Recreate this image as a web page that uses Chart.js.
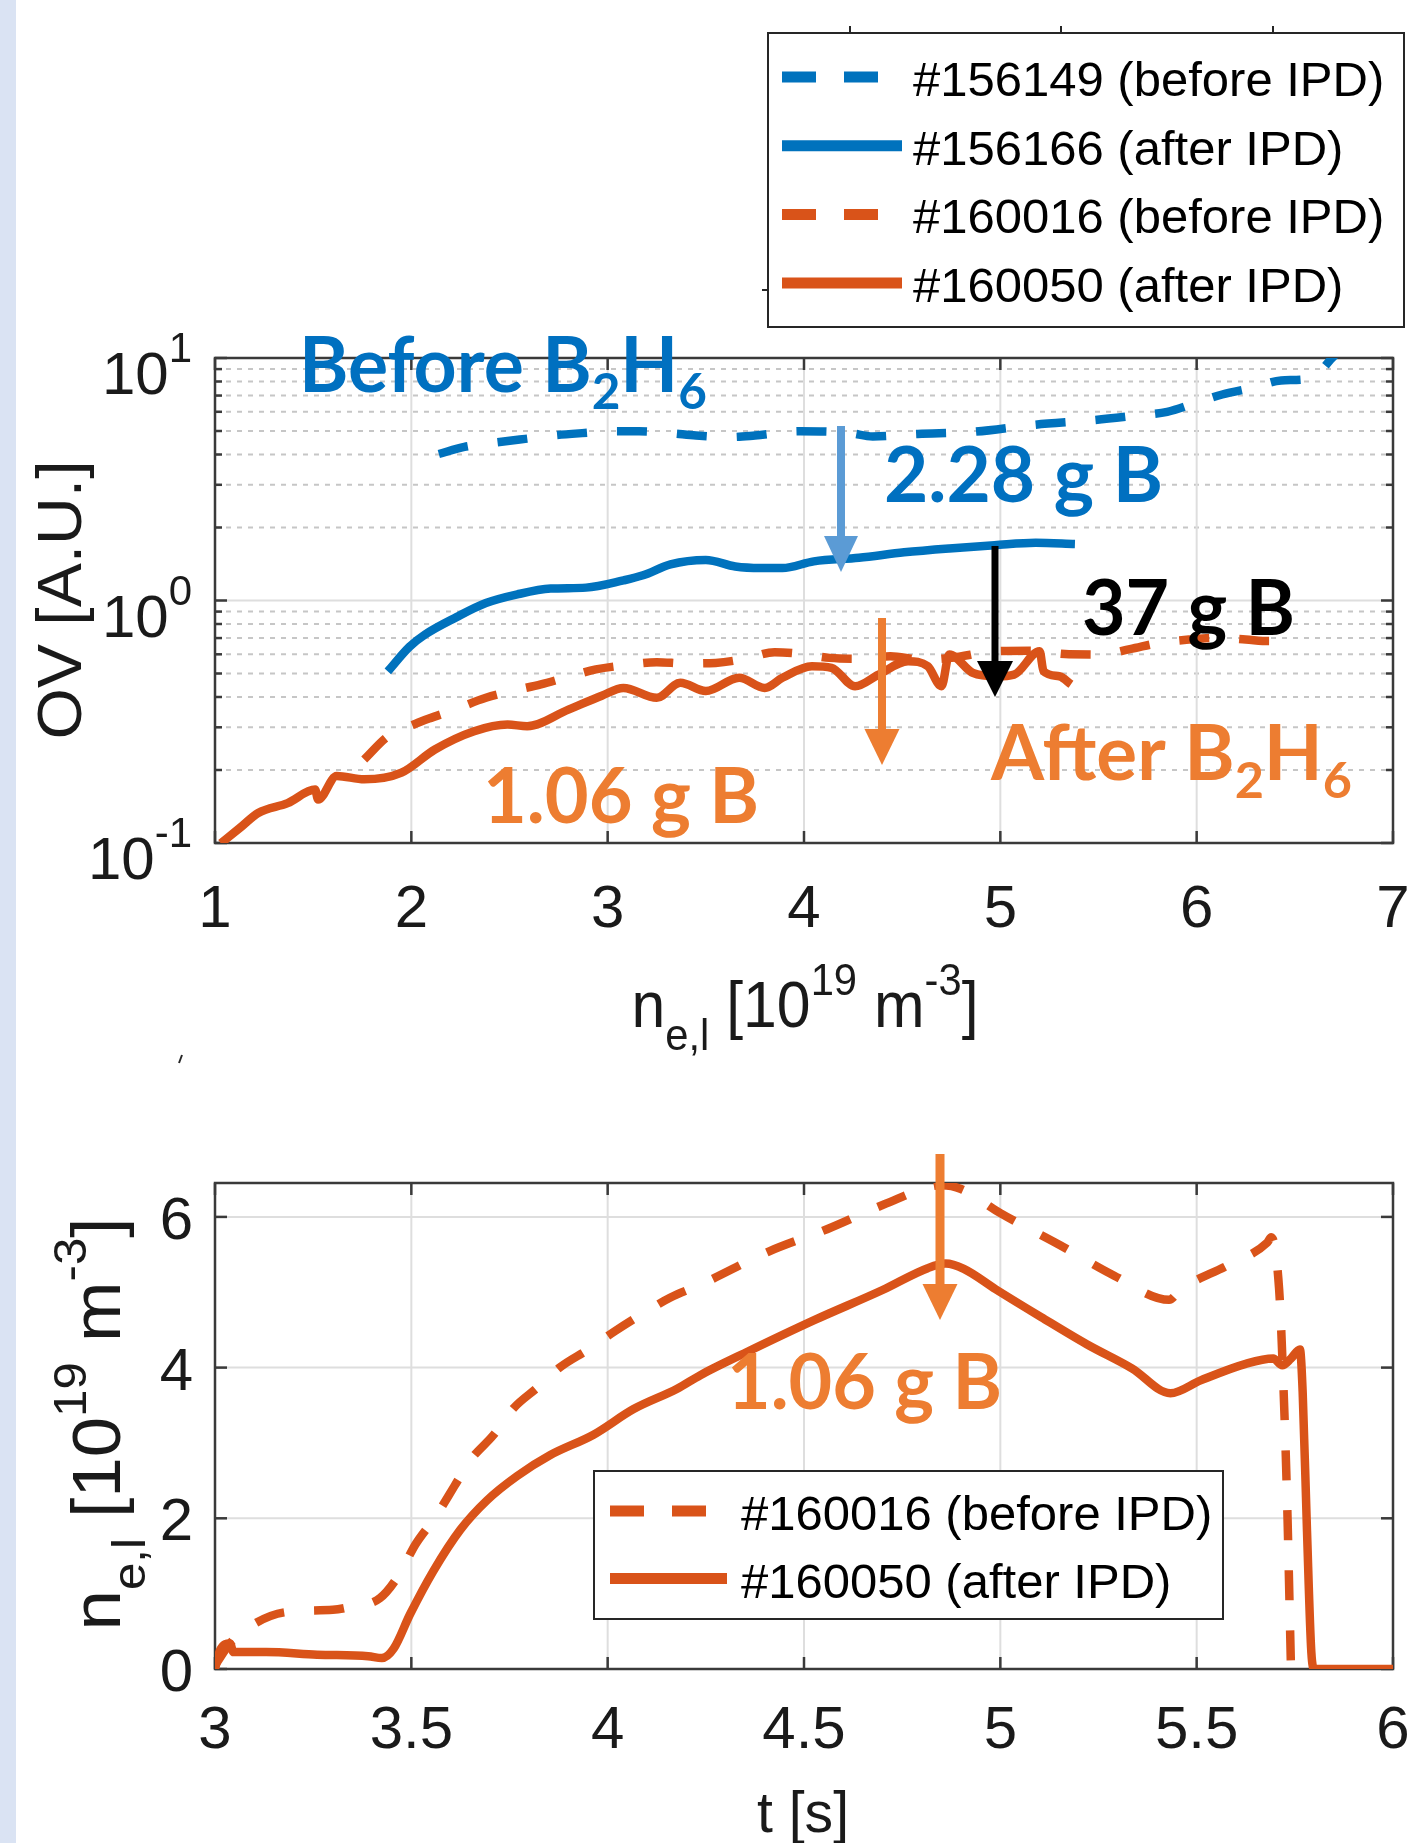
<!DOCTYPE html>
<html>
<head>
<meta charset="utf-8">
<script src="https://cdn.jsdelivr.net/npm/chart.js@4.4.1/dist/chart.umd.min.js"></script>
<style>
html, body { margin: 0; padding: 0; background: #fff; }
body { width: 1408px; height: 1843px; position: relative; overflow: hidden; }
#strip { position: absolute; left: 0; top: 0; width: 16px; height: 1843px; background: #dae3f3; }
canvas { position: absolute; left: 0; }
#ovChart { top: 0; }
#neChart { top: 1080px; }
</style>
</head>
<body>
<div id="strip"></div>
<canvas id="ovChart" width="1408" height="1080"></canvas>
<canvas id="neChart" width="1408" height="763"></canvas>
<script>

// top panel: OV signal vs line averaged density
const ne156149 = [2.14, 2.27, 2.43, 2.58, 2.72, 2.87, 3.02, 3.16, 3.32, 3.45, 3.62, 3.75, 3.98, 4.23, 4.35, 4.58, 4.86, 5.17, 5.48, 5.69, 5.85, 5.99, 6.13, 6.29, 6.43, 6.58, 6.70, 6.76];
const ov156149 = [4.02, 4.30, 4.48, 4.64, 4.79, 4.90, 4.99, 4.99, 4.90, 4.79, 4.72, 4.79, 4.99, 4.91, 4.75, 4.86, 4.96, 5.30, 5.55, 5.79, 6.00, 6.51, 7.07, 7.56, 8.08, 8.23, 10.2, 11.3];

const ne156166 = [1.88, 1.99, 2.07, 2.23, 2.38, 2.54, 2.71, 2.89, 3.08, 3.18, 3.32, 3.50, 3.65, 3.78, 3.89, 4.05, 4.28, 4.51, 4.74, 4.97, 5.18, 5.38];
const ov156166 = [0.51, 0.644, 0.724, 0.854, 0.976, 1.06, 1.12, 1.13, 1.21, 1.27, 1.41, 1.47, 1.38, 1.36, 1.36, 1.45, 1.50, 1.58, 1.64, 1.69, 1.73, 1.71];

const ne160016 = [1.76, 1.88, 2.02, 2.09, 2.20, 2.38, 2.52, 2.66, 2.80, 2.94, 3.08, 3.25, 3.40, 3.55, 3.70, 3.85, 4.00, 4.13, 4.27, 4.44, 4.60, 4.75, 4.98, 5.15, 5.35, 5.51, 5.66, 5.81, 5.96, 6.10, 6.25, 6.37, 6.43];
const ov160016 = [0.221, 0.275, 0.310, 0.326, 0.350, 0.397, 0.425, 0.451, 0.485, 0.520, 0.540, 0.557, 0.550, 0.553, 0.575, 0.612, 0.600, 0.580, 0.575, 0.589, 0.570, 0.580, 0.618, 0.620, 0.600, 0.599, 0.630, 0.669, 0.690, 0.702, 0.690, 0.680, 0.713];

const ne160050 = [1.03, 1.13, 1.22, 1.37, 1.51, 1.525, 1.62, 1.76, 1.95, 2.12, 2.32, 2.49, 2.59, 2.80, 2.97, 3.08, 3.25, 3.37, 3.50, 3.67, 3.80, 3.89, 4.04, 4.14, 4.26, 4.38, 4.53, 4.63, 4.70, 4.74, 4.86, 4.98, 5.07, 5.20, 5.22, 5.30, 5.36];
const ov160050 = [0.0997, 0.116, 0.133, 0.146, 0.166, 0.151, 0.189, 0.183, 0.195, 0.243, 0.289, 0.308, 0.303, 0.355, 0.405, 0.436, 0.397, 0.458, 0.423, 0.480, 0.436, 0.480, 0.536, 0.528, 0.443, 0.495, 0.562, 0.536, 0.443, 0.599, 0.503, 0.487, 0.495, 0.618, 0.511, 0.487, 0.451];

// bottom panel: density time traces
const t160016 = [3.0, 3.04, 3.10, 3.18, 3.30, 3.34, 3.42, 3.47, 3.51, 3.56, 3.61, 3.65, 3.71, 3.76, 3.82, 3.88, 3.95, 4.02, 4.09, 4.16, 4.24, 4.41, 4.56, 4.71, 4.82, 4.85, 4.90, 5.00, 5.15, 5.29, 5.43, 5.46, 5.58, 5.68, 5.69, 5.71, 5.72, 5.73, 5.74];
const neT160016 = [0.05, 0.35, 0.60, 0.755, 0.785, 0.82, 0.94, 1.26, 1.65, 2.01, 2.43, 2.77, 3.11, 3.46, 3.73, 4.01, 4.24, 4.49, 4.72, 4.93, 5.11, 5.54, 5.84, 6.18, 6.40, 6.42, 6.37, 6.05, 5.63, 5.22, 4.90, 5.04, 5.36, 5.66, 5.73, 5.04, 3.89, 2.29, 0.05];

const t160050 = [3.0, 3.013, 3.038, 3.047, 3.13, 3.26, 3.39, 3.425, 3.455, 3.497, 3.556, 3.625, 3.693, 3.769, 3.854, 3.964, 4.066, 4.177, 4.236, 4.352, 4.526, 4.70, 4.815, 4.861, 4.907, 4.988, 5.104, 5.22, 5.335, 5.433, 5.51, 5.625, 5.695, 5.718, 5.74, 5.763, 5.77, 5.781, 5.792, 5.80, 5.856, 6.0];
const neT160050 = [0.0, 0.25, 0.34, 0.225, 0.225, 0.19, 0.17, 0.145, 0.27, 0.73, 1.30, 1.85, 2.24, 2.56, 2.84, 3.11, 3.45, 3.72, 3.90, 4.20, 4.63, 5.03, 5.32, 5.38, 5.31, 5.04, 4.67, 4.31, 3.99, 3.66, 3.83, 4.05, 4.12, 4.03, 4.12, 4.24, 3.67, 1.83, 0.225, 0.0, 0.0, 0.0];

// ticks and labels
const topXTicks = [1, 2, 3, 4, 5, 6, 7];
const topYTicks = [0.1, 1, 10];
const topYTickExp = ['-1', '0', '1'];
const bottomXTicks = [3, 3.5, 4, 4.5, 5, 5.5, 6];
const bottomXTickLabels = ['3', '3.5', '4', '4.5', '5', '5.5', '6'];
const bottomYTicks = [0, 2, 4, 6];

const topLegendLabels = ['#156149 (before IPD)', '#156166 (after IPD)', '#160016 (before IPD)', '#160050 (after IPD)'];
const bottomLegendLabels = ['#160016 (before IPD)', '#160050 (after IPD)'];

const BLUE = '#0072BD';
const ORANGE = '#D95319';
const TXT_BLUE = '#0070C0';
const TXT_ORANGE = '#ED7D31';
const ARROW_BLUE = '#5B9BD5';
const FONT = '"Liberation Sans", Arial, Helvetica, sans-serif';
const CALLOUT = 'Lato, "Open Sans", sans-serif';
const DASH = [30, 30];

const toPoints = (xs, ys) => xs.map((x, i) => ({ x: x, y: ys[i] }));

const lineSet = (label, xs, ys, color, dashed) => ({
    label: label,
    data: toPoints(xs, ys),
    borderColor: color,
    borderWidth: 8.5,
    borderDash: dashed ? DASH : [],
    pointRadius: 0,
    fill: false,
    cubicInterpolationMode: 'monotone'
});

const fontOf = (p) => `${p.weight || 'normal'} ${p.size}px ${p.family || FONT}`;

// draws text runs side by side, sub/superscripts via dy
const drawRich = (ctx, parts, x, y, align) => {
    ctx.textAlign = 'left';
    ctx.textBaseline = 'alphabetic';
    const widths = parts.map(p => { ctx.font = fontOf(p); return ctx.measureText(p.text).width; });
    const total = widths.reduce((a, b) => a + b, 0);
    let cx = align === 'center' ? x - total / 2 : (align === 'right' ? x - total : x);
    parts.forEach((p, i) => {
        ctx.font = fontOf(p);
        ctx.fillStyle = p.color || '#1a1a1a';
        ctx.fillText(p.text, cx, y + (p.dy || 0));
        cx += widths[i];
    });
    return total;
};

const richWidth = (ctx, parts) => parts.reduce((s, p) => { ctx.font = fontOf(p); return s + ctx.measureText(p.text).width; }, 0);

// text squeezed/stretched to a given width, optionally rotated
const drawFit = (ctx, parts, x, y, width, align, rotate) => {
    const w = richWidth(ctx, parts);
    ctx.save();
    ctx.translate(x, y);
    if (rotate) ctx.rotate(-Math.PI / 2);
    ctx.scale(width / w, 1);
    drawRich(ctx, parts, 0, 0, align);
    ctx.restore();
};

const drawArrow = (ctx, x, yTop, yTip, color, shaft, headW, headL) => {
    ctx.fillStyle = color;
    ctx.fillRect(x - shaft / 2, yTop, shaft, yTip - headL - yTop + 1);
    ctx.beginPath();
    ctx.moveTo(x - headW / 2, yTip - headL);
    ctx.lineTo(x + headW / 2, yTip - headL);
    ctx.lineTo(x, yTip);
    ctx.closePath();
    ctx.fill();
};

const seg = (ctx, x0, y0, x1, y1) => {
    ctx.beginPath();
    ctx.moveTo(x0, y0);
    ctx.lineTo(x1, y1);
    ctx.stroke();
};

const drawLegend = (ctx, box, chart, rows) => {
    ctx.save();
    ctx.fillStyle = '#fff';
    ctx.fillRect(box.x, box.y, box.w, box.h);
    ctx.strokeStyle = '#262626';
    ctx.lineWidth = 2;
    ctx.strokeRect(box.x, box.y, box.w, box.h);
    chart.data.datasets.forEach((ds, i) => {
        const y = rows.y0 + i * rows.step;
        ctx.strokeStyle = ds.borderColor;
        ctx.lineWidth = 11;
        ctx.setLineDash(ds.borderDash.length ? [34, 28] : []);
        seg(ctx, rows.x0, y, rows.x1, y);
        ctx.setLineDash([]);
        ctx.fillStyle = '#000';
        ctx.font = `49px ${FONT}`;
        ctx.textAlign = 'left';
        ctx.textBaseline = 'alphabetic';
        ctx.fillText(ds.label, rows.tx, y + 19);
    });
    ctx.restore();
};

const AXIS = '#3a3a3a';
const GRID = '#dedede';
const MINOR = '#c6c6c6';

const ovFrame = {
    id: 'ovFrame',
    beforeDatasetsDraw(chart) {
        const { ctx, chartArea: a, scales: { x, y } } = chart;
        ctx.save();
        const minors = [];
        [0.1, 1].forEach(d => { for (let k = 2; k <= 9; k++) minors.push(k * d); });
        ctx.lineWidth = 2;
        ctx.strokeStyle = MINOR;
        ctx.setLineDash([5, 6]);
        minors.forEach(v => { const py = y.getPixelForValue(v); seg(ctx, a.left, py, a.right, py); });
        ctx.setLineDash([]);
        ctx.strokeStyle = GRID;
        topXTicks.slice(1, -1).forEach(v => { const px = x.getPixelForValue(v); seg(ctx, px, a.top, px, a.bottom); });
        const p1 = y.getPixelForValue(1);
        seg(ctx, a.left, p1, a.right, p1);

        ctx.strokeStyle = AXIS;
        ctx.lineWidth = 2.5;
        ctx.strokeRect(a.left, a.top, a.right - a.left, a.bottom - a.top);
        topXTicks.forEach(v => {
            const px = x.getPixelForValue(v);
            seg(ctx, px, a.bottom, px, a.bottom - 12);
            seg(ctx, px, a.top, px, a.top + 12);
        });
        minors.forEach(v => {
            const py = y.getPixelForValue(v);
            seg(ctx, a.left, py, a.left + 7, py);
            seg(ctx, a.right, py, a.right - 7, py);
        });
        topYTicks.forEach(v => {
            const py = y.getPixelForValue(v);
            seg(ctx, a.left, py, a.left + 12, py);
            seg(ctx, a.right, py, a.right - 12, py);
        });
        ctx.restore();
    },
    afterDatasetsDraw(chart) {
        const { ctx, scales: { x, y } } = chart;
        ctx.save();
        // tick labels
        topXTicks.forEach(v => {
            drawRich(ctx, [{ text: String(v), size: 60 }], x.getPixelForValue(v), 927, 'center');
        });
        topYTicks.forEach((v, i) => {
            const py = y.getPixelForValue(v);
            drawRich(ctx, [{ text: '10', size: 60 }, { text: topYTickExp[i], size: 42, dy: -32 }], 192, py + 36, 'right');
        });
        // axis titles
        drawFit(ctx, [
            { text: 'n', size: 64 }, { text: 'e,l', size: 44, dy: 23 }, { text: ' [10', size: 64 },
            { text: '19', size: 44, dy: -32 }, { text: ' m', size: 64 }, { text: '-3', size: 44, dy: -32 }, { text: ']', size: 64 }
        ], 805, 1027, 347, 'center', false);
        drawFit(ctx, [{ text: 'OV [A.U.]', size: 63 }], 81, 600, 279, 'center', true);

        // callouts
        drawFit(ctx, [
            { text: 'Before B', size: 76, weight: 'bold', family: CALLOUT, color: TXT_BLUE },
            { text: '2', size: 50, weight: 'bold', family: CALLOUT, color: TXT_BLUE, dy: 17 },
            { text: 'H', size: 76, weight: 'bold', family: CALLOUT, color: TXT_BLUE },
            { text: '6', size: 50, weight: 'bold', family: CALLOUT, color: TXT_BLUE, dy: 17 }
        ], 299, 392, 408, 'left', false);
        drawArrow(ctx, 841, 426, 572, ARROW_BLUE, 8, 34, 36);
        drawFit(ctx, [{ text: '2.28 g B', size: 76, weight: 'bold', family: CALLOUT, color: TXT_BLUE }], 884, 502, 279, 'left', false);
        drawArrow(ctx, 995, 546, 697, '#000', 7, 36, 36);
        drawFit(ctx, [{ text: '37 g B', size: 76, weight: 'bold', family: CALLOUT, color: '#000' }], 1082, 635, 213, 'left', false);
        drawArrow(ctx, 882, 618, 765, TXT_ORANGE, 8, 35, 36);
        drawFit(ctx, [
            { text: 'After B', size: 76, weight: 'bold', family: CALLOUT, color: TXT_ORANGE },
            { text: '2', size: 50, weight: 'bold', family: CALLOUT, color: TXT_ORANGE, dy: 18 },
            { text: 'H', size: 76, weight: 'bold', family: CALLOUT, color: TXT_ORANGE },
            { text: '6', size: 50, weight: 'bold', family: CALLOUT, color: TXT_ORANGE, dy: 18 }
        ], 991, 780, 361, 'left', false);
        drawFit(ctx, [{ text: '1.06 g B', size: 76, weight: 'bold', family: CALLOUT, color: TXT_ORANGE }], 483, 823, 276, 'left', false);

        // leftover ticks from the cropped panel above
        ctx.strokeStyle = '#262626';
        ctx.lineWidth = 2;
        [850, 1061, 1273].forEach(px => seg(ctx, px, 26, px, 33));
        seg(ctx, 762, 290, 768, 290);
        seg(ctx, 182, 1055, 179, 1063);

        drawLegend(ctx, { x: 768, y: 33, w: 636, h: 294 }, chart, { y0: 77, step: 68.7, x0: 782, x1: 902, tx: 913 });
        ctx.restore();
    }
};

const neFrame = {
    id: 'neFrame',
    beforeDatasetsDraw(chart) {
        const { ctx, chartArea: a, scales: { x, y } } = chart;
        ctx.save();
        ctx.lineWidth = 2;
        ctx.strokeStyle = GRID;
        bottomXTicks.slice(1, -1).forEach(v => { const px = x.getPixelForValue(v); seg(ctx, px, a.top, px, a.bottom); });
        bottomYTicks.slice(1).forEach(v => { const py = y.getPixelForValue(v); seg(ctx, a.left, py, a.right, py); });
        ctx.strokeStyle = AXIS;
        ctx.lineWidth = 2.5;
        ctx.strokeRect(a.left, a.top, a.right - a.left, a.bottom - a.top);
        bottomXTicks.forEach(v => {
            const px = x.getPixelForValue(v);
            seg(ctx, px, a.bottom, px, a.bottom - 12);
            seg(ctx, px, a.top, px, a.top + 12);
        });
        bottomYTicks.forEach(v => {
            const py = y.getPixelForValue(v);
            seg(ctx, a.left, py, a.left + 12, py);
            seg(ctx, a.right, py, a.right - 12, py);
        });
        ctx.restore();
    },
    afterDatasetsDraw(chart) {
        const { ctx, scales: { x, y } } = chart;
        ctx.save();
        bottomXTicks.forEach((v, i) => {
            drawRich(ctx, [{ text: bottomXTickLabels[i], size: 60 }], x.getPixelForValue(v), 668, 'center');
        });
        bottomYTicks.forEach(v => {
            drawRich(ctx, [{ text: String(v), size: 60 }], 193, y.getPixelForValue(v) + 22, 'right');
        });
        drawFit(ctx, [{ text: 't [s]', size: 58 }], 803, 752, 92, 'center', false);
        drawFit(ctx, [
            { text: 'n', size: 68 }, { text: 'e,l', size: 46, dy: 25 }, { text: ' [10', size: 68 },
            { text: '19', size: 46, dy: -34 }, { text: ' m', size: 68 }, { text: '-3', size: 46, dy: -34 }, { text: ']', size: 68 }
        ], 120, 344, 413, 'center', true);

        drawArrow(ctx, 940, 74, 240, TXT_ORANGE, 9, 35, 36);
        drawFit(ctx, [{ text: '1.06 g B', size: 76, weight: 'bold', family: CALLOUT, color: TXT_ORANGE }], 727, 329, 275, 'left', false);

        drawLegend(ctx, { x: 594, y: 391, w: 629, h: 148 }, chart, { y0: 431, step: 67.5, x0: 610, x1: 727, tx: 741 });
        ctx.restore();
    }
};

const baseOptions = (padding, xScale, yScale) => ({
    responsive: false,
    animation: false,
    devicePixelRatio: 1,
    layout: { padding: padding },
    plugins: { legend: { display: false }, tooltip: { enabled: false } },
    scales: { x: xScale, y: yScale }
});

const ovChart = new Chart(document.getElementById('ovChart'), {
    type: 'line',
    data: {
        datasets: [
            lineSet(topLegendLabels[0], ne156149, ov156149, BLUE, true),
            lineSet(topLegendLabels[1], ne156166, ov156166, BLUE, false),
            lineSet(topLegendLabels[2], ne160016, ov160016, ORANGE, true),
            lineSet(topLegendLabels[3], ne160050, ov160050, ORANGE, false)
        ]
    },
    options: baseOptions(
        { left: 215, top: 358, right: 15, bottom: 237 },
        { type: 'linear', min: 1, max: 7, display: false },
        { type: 'logarithmic', min: 0.1, max: 10, display: false }
    ),
    plugins: [ovFrame]
});

const neChart = new Chart(document.getElementById('neChart'), {
    type: 'line',
    data: {
        datasets: [
            lineSet(bottomLegendLabels[0], t160016, neT160016, ORANGE, true),
            lineSet(bottomLegendLabels[1], t160050, neT160050, ORANGE, false)
        ]
    },
    options: baseOptions(
        { left: 215, top: 103, right: 15, bottom: 174 },
        { type: 'linear', min: 3, max: 6, display: false },
        { type: 'linear', min: 0, max: 6.45, display: false }
    ),
    plugins: [neFrame]
});
</script>
</body>
</html>
